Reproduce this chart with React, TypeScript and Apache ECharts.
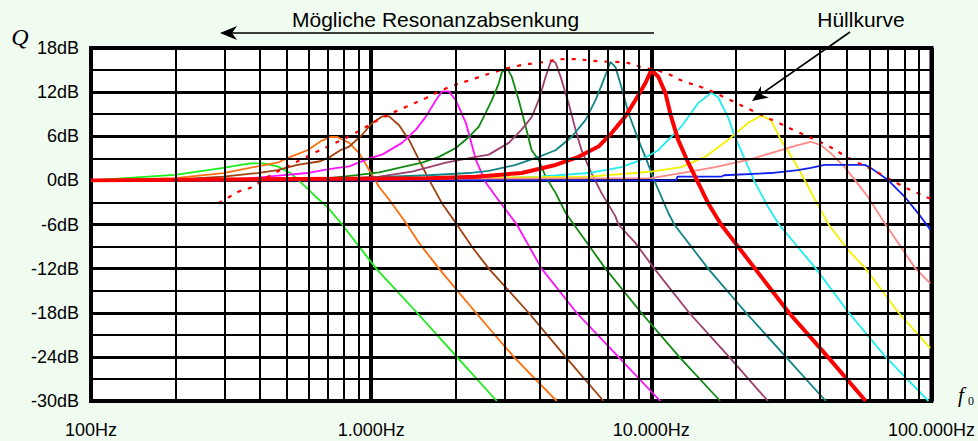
import React, { useEffect, useRef } from 'react';
import * as echarts from 'echarts';

// y ticks in dB, x decades in Hz
const yMajor = [-30, -24, -18, -12, -6, 0, 6, 12, 18];
const yMinor = [-27, -21, -15, -9, -3, 3, 9, 15];
const xDecades = [100, 1000, 10000, 100000];
const xMinor = [100, 1000, 10000].flatMap((d) => [2, 3, 4, 5, 6, 7, 8, 9].map((m) => m * d));

// curves: [frequency Hz, level dB]
const curveLime = [[100,0],[199,0.75],[297,1.7],[342,2.1],[371,2.3],[413,2.3],[463,1.9],[515,1.0],[559,-0.2],[642,-2.4],[697,-3.6],[788,-6],[1042,-12],[1458,-18],[2023,-24],[2807,-30]];
const curveOrange = [[100,0],[199,0.3],[297,1.0],[393,1.9],[463,2.4],[515,3.2],[592,4.1],[659,5.3],[714,5.9],[757,5.9],[835,5.1],[906,3.7],[984,1.4],[1068,-0.9],[1159,-2.6],[1343,-6],[1482,-8.5],[1746,-12],[2365,-18],[3228,-24],[4590,-30]];
const curveBrown = [[100,0],[199,0.1],[297,0.5],[393,1.0],[463,1.4],[545,2.1],[659,2.6],[714,3.2],[776,4.1],[835,4.6],[929,6.2],[1008,7.8],[1094,8.7],[1159,8.7],[1258,7.5],[1365,5.5],[1482,2.8],[1608,0.1],[1789,-3.1],[2023,-6],[2287,-9],[2630,-12],[3650,-18],[4943,-24],[6750,-30]];
const curveMagenta = [[100,0],[297,0],[427,0.5],[592,1.0],[675,1.4],[757,1.7],[835,1.9],[984,3.0],[1094,3.5],[1289,5.1],[1446,6.9],[1570,8.7],[1703,10.9],[1789,12.1],[1895,12.1],[2005,10.9],[2179,7.8],[2365,2.8],[2566,-0.3],[2786,-2.2],[3310,-6],[4060,-12],[5410,-18],[7630,-24],[10760,-30]];
const curveDarkGreen = [[100,0],[297,0],[515,0.2],[709,0.3],[888,0.7],[1068,1.1],[1289,1.8],[1518,2.4],[1746,3.2],[2005,4.4],[2233,5.9],[2423,7.3],[2566,9.2],[2697,10.9],[2855,13.2],[2927,14.7],[3050,15.3],[3176,14.1],[3364,10.9],[3562,7.3],[3740,4.1],[3962,2.8],[4195,0.5],[4552,-1.7],[4941,-4.4],[5410,-6.5],[6860,-12],[9210,-18],[12580,-24],[17610,-30]];
const curveMauve = [[100,0],[709,0],[1068,0.5],[1399,1.2],[1849,2.4],[2365,3.2],[2630,3.5],[3098,5.1],[3445,6.9],[3740,8.6],[3962,10.9],[4195,14.1],[4373,16.1],[4460,16.2],[4552,16],[4745,14.1],[5067,10.5],[5365,6.9],[5635,4.1],[6110,1],[6637,-1.7],[7447,-4.9],[7630,-6],[8770,-8.5],[10250,-12],[13650,-18],[18950,-24],[26080,-30]];
const curveTeal = [[100,0],[709,0.2],[1600,0.7],[2233,1.0],[2630,1.3],[3281,2.1],[3962,3.2],[4552,4.1],[5190,5.9],[5820,8.2],[6320,10.9],[6750,13.6],[7150,16.1],[7447,15.4],[7820,12.7],[8283,9.2],[8990,5.5],[9520,3.2],[10330,-0.3],[11490,-4.4],[12080,-6],[15950,-12],[21780,-18],[30220,-24],[41940,-30]];
const curveRed = [[100,0],[1600,0.3],[2365,0.5],[3445,1.0],[4552,2.1],[5500,3.2],[6477,4.6],[7205,6.4],[8077,8.7],[8770,10.9],[9520,13.2],[10000,15],[10590,14.1],[11220,11.9],[11780,8.6],[12470,5.5],[13540,2.4],[14690,-0.3],[15950,-3.1],[17740,-6],[23450,-12],[30990,-18],[42650,-24],[58230,-30]];
const curveCyan = [[100,0],[2855,0.3],[3962,0.5],[5969,1.0],[7820,1.8],[9210,2.8],[10590,4.1],[11220,5.1],[12790,7.3],[14690,10.5],[16350,11.9],[17310,11.3],[18790,8.6],[19900,5.9],[21620,2.8],[23450,-0.3],[26080,-3.6],[28560,-6],[38680,-12],[50700,-18],[68580,-24],[97560,-30]];
const curveYellow = [[100,0],[5969,0.5],[8770,1.0],[10000,1.2],[12790,1.8],[15570,3.2],[18790,5.5],[22140,7.8],[24620,8.8],[26730,8.2],[29020,5.5],[30730,4.0],[32500,2.5],[34180,1.0],[38370,-2.6],[42960,-6],[50240,-9.4],[58230,-12],[76300,-18],[99000,-22.8]];
const curveSalmon = [[100,0],[10000,0.3],[12790,1.0],[16900,1.8],[22140,2.8],[29020,4.1],[33350,4.8],[37080,5.25],[40270,4.8],[43710,3.7],[48990,1.8],[53190,0.1],[59190,-2.2],[68580,-6],[77600,-9],[87700,-12],[99000,-14]];
const curveBlue = [[100,0],[12250,0],[12400,0.5],[17740,0.5],[18200,0.7],[26730,1.0],[33350,1.4],[37080,1.7],[41580,2.1],[57800,2.1],[60690,1.7],[69730,0.1],[80130,-2.2],[91420,-4.9],[99000,-6.7]];
const envelope = [[285,-3.1],[310,-2.3],[342,-1.4],[371,-1.0],[403,-0.2],[434,0.6],[515,2.1],[569,2.9],[617,3.6],[727,4.9],[855,6.2],[1094,8.5],[1333,10.0],[1570,11.2],[1819,12.4],[2365,13.9],[2855,14.9],[3364,15.6],[3962,16.0],[5070,16.5],[6475,16.2],[8077,16.0],[9210,15.4],[11030,14.7],[13000,13.5],[15300,12.6],[18190,11.3],[21430,10.0],[27400,8.1],[32820,6.7],[42660,4.7],[49890,3.2],[64800,1.0],[76300,-0.5],[89900,-1.8],[99100,-2.5]];

const curves = [
  { data: curveLime, color: '#19ee19', width: 1.8 },
  { data: curveOrange, color: '#ff6e0a', width: 1.8 },
  { data: curveBrown, color: '#a0400c', width: 1.8 },
  { data: curveMagenta, color: '#ff10ff', width: 1.8 },
  { data: curveDarkGreen, color: '#108a10', width: 1.8 },
  { data: curveMauve, color: '#9c3f6e', width: 1.8 },
  { data: curveTeal, color: '#108585', width: 1.8 },
  { data: curveCyan, color: '#20eeee', width: 1.8 },
  { data: curveYellow, color: '#f5f000', width: 1.8 },
  { data: curveSalmon, color: '#ff8888', width: 1.8 },
  { data: curveBlue, color: '#1020ee', width: 1.8 },
  { data: curveRed, color: '#ff0000', width: 4 },
];

const FONT = "'Liberation Sans', Arial, sans-serif";
const SERIF = "'Liberation Serif', 'DejaVu Serif', serif";

function fmtHz(v: number) {
  const n = Math.round(v);
  return n.toString().replace(/\B(?=(\d{3})+(?!\d))/g, '.') + 'Hz';
}

function txt(text: string, x: number, y: number, font: string, align = 'center', vAlign = 'middle') {
  return {
    type: 'text', x, y, silent: true,
    style: { text, font, fill: '#000', align, verticalAlign: vAlign, textAlign: align, textVerticalAlign: vAlign },
  };
}

export default function App() {
  const ref = useRef<HTMLDivElement>(null);
  useEffect(() => {
    const chart = echarts.init(ref.current!, undefined, { renderer: 'svg' });
    const option: any = {
      animation: false,
      backgroundColor: '#f1fcf1',
      grid: { left: 91, right: 44, top: 48, bottom: 40, show: true, backgroundColor: '#ffffff', borderColor: '#000', borderWidth: 4 },
      xAxis: {
        type: 'log', logBase: 10, min: xDecades[0], max: xDecades[xDecades.length - 1],
        axisLine: { show: false }, axisTick: { show: false },
        splitLine: { show: true, lineStyle: { color: '#000', width: 4 } },
        axisLabel: { formatter: fmtHz, fontSize: 18, fontFamily: FONT, color: '#000', margin: 20, showMinLabel: true, showMaxLabel: true },
      },
      yAxis: {
        type: 'value', min: yMajor[0], max: yMajor[yMajor.length - 1], interval: 6,
        axisLine: { show: false }, axisTick: { show: false },
        splitLine: { show: true, lineStyle: { color: '#000', width: 3 } },
        axisLabel: { formatter: (v: number) => v + 'dB', fontSize: 18, fontFamily: FONT, color: '#000', margin: 12 },
      },
      series: [
        {
          type: 'line', data: [[100, 0]], symbol: 'none', silent: true, z: 1,
          lineStyle: { opacity: 0 },
          markLine: {
            silent: true, symbol: ['none', 'none'], label: { show: false },
            lineStyle: { color: '#000', width: 2, type: 'solid' },
            emphasis: { disabled: true },
            data: [...xMinor.map((v) => ({ xAxis: v })), ...yMinor.map((v) => ({ yAxis: v }))],
          },
        },
        ...curves.map((c) => ({
          type: 'line', data: c.data, symbol: 'none', silent: true, z: 3,
          lineStyle: { color: c.color, width: c.width },
        })),
        {
          type: 'line', data: envelope, symbol: 'none', silent: true, z: 4, smooth: true,
          lineStyle: { color: '#ff0000', width: 2.2, type: [4, 7] },
        },
      ],
      graphic: [
        txt('Mögliche Resonanzabsenkung', 292, 19, `21px ${FONT}`, 'left'),
        { type: 'line', silent: true, shape: { x1: 654, y1: 33, x2: 228, y2: 33 }, style: { stroke: '#000', lineWidth: 1.6 } },
        { type: 'polygon', silent: true, shape: { points: [[220, 33], [237, 26], [232, 33], [237, 40]] }, style: { fill: '#000' } },
        txt('Hüllkurve', 861, 19, `21px ${FONT}`),
        { type: 'line', silent: true, shape: { x1: 850, y1: 32, x2: 760, y2: 95 }, style: { stroke: '#000', lineWidth: 1.6 } },
        { type: 'polygon', silent: true, shape: { points: [[752, 101], [761, 86], [761, 94.5], [769, 97.5]] }, style: { fill: '#000' } },
        txt('Q', 20, 37, `italic 24px ${SERIF}`),
        txt('f', 961, 395, `italic 21px ${SERIF}`),
        txt('0', 971, 401, `12px ${SERIF}`),
      ],
    };
    chart.setOption(option);
    return () => chart.dispose();
  }, []);
  return <div ref={ref} style={{ position: 'fixed', left: 0, top: 0, width: 978, height: 441 }} />;
}
